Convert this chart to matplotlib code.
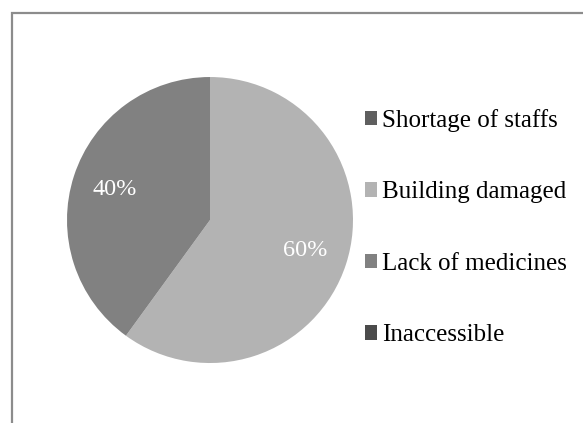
import matplotlib.pyplot as plt
from matplotlib.patches import Rectangle

# data
categories = ['Shortage of staffs', 'Building damaged', 'Lack of medicines', 'Inaccessible']
shares = [0, 60, 40, 0]
colors = ['#5f5f5f', '#b3b3b3', '#818181', '#4b4b4b']

plt.rcParams['font.family'] = ['Liberation Serif', 'DejaVu Serif']

fig = plt.figure(figsize=(5.83, 4.23), dpi=100)

# outer frame (only left and top edges visible)
fig.patches.append(Rectangle((12 / 583, -0.05), 1.2, 1 - 13 / 423 + 0.05,
                             transform=fig.transFigure, fill=False,
                             edgecolor='#8c8c8c', linewidth=1.6))

ax = fig.add_axes([0.1149, 0.1418, 0.4906, 0.6761])


def pct_label(p):
    return f'{p:.0f}%' if p > 0.5 else ''


wedges, texts, autotexts = ax.pie(shares, colors=colors, startangle=90, counterclock=False,
                                  autopct=pct_label, pctdistance=0.7,
                                  textprops={'color': 'white', 'fontsize': 17.5})
ax.set_xlim(-1, 1)
ax.set_ylim(-1, 1)
ax.set_aspect('equal')

fig.legend(wedges, categories, loc='center left', bbox_to_anchor=(0.626, 0.462),
           frameon=False, fontsize=18, handlelength=0.5, handleheight=0.5,
           handletextpad=0.2, labelspacing=1.98, borderpad=0, borderaxespad=0)

plt.savefig('out.png', dpi=100)
